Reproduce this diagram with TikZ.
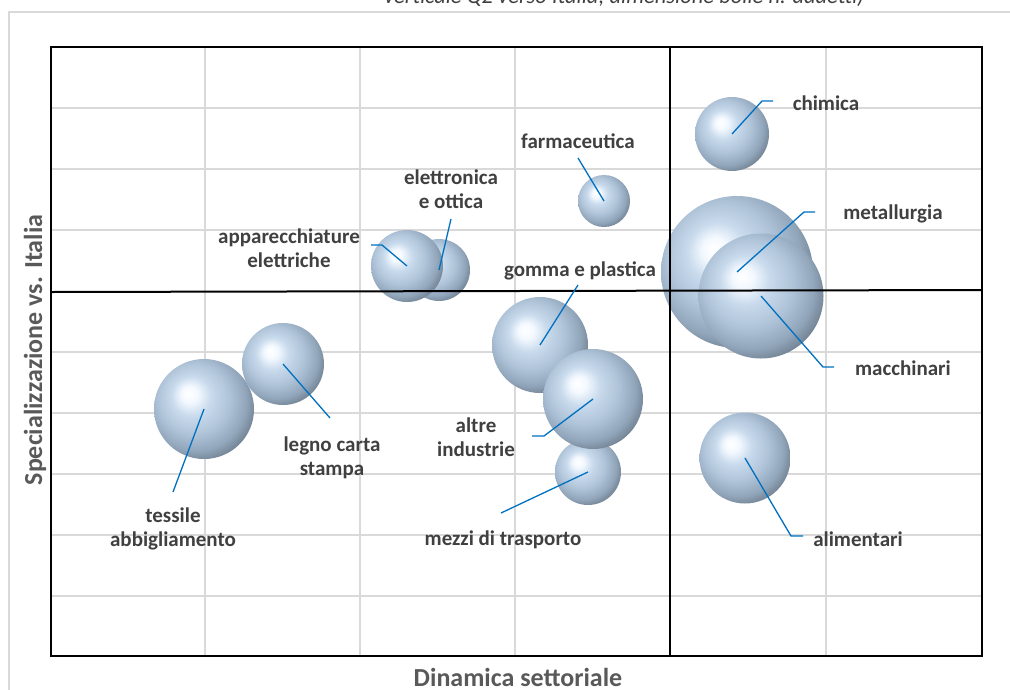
\documentclass[tikz,border=0pt]{standalone}
\usepackage{fontspec}
\setmainfont{Carlito}
\definecolor{gridgray}{HTML}{D9D9D9}
\definecolor{framegray}{HTML}{D9D9D9}
\definecolor{lead}{HTML}{0070C0}
\definecolor{labtxt}{HTML}{404040}
\definecolor{axtxt}{HTML}{595959}
\definecolor{bubA}{HTML}{F4F9FF}
\definecolor{bubB}{HTML}{C8DAEC}
\definecolor{bubC}{HTML}{AFC3D8}
\definecolor{bubD}{HTML}{92A6BB}
\definecolor{bubE}{HTML}{6F8090}
\definecolor{bubF}{HTML}{3E4852}
\pgfdeclareradialshading{bubble}{\pgfpoint{-8bp}{8bp}}{%
  color(0bp)=(white); color(4bp)=(bubA); color(10bp)=(bubB);
  color(18bp)=(bubC); color(25bp)=(bubD); color(30bp)=(bubE);
  color(34bp)=(bubF); color(50bp)=(bubF)}
\begin{document}
\begin{tikzpicture}[x=1pt,y=-1pt,
  bub/.style={circle, inner sep=0pt, minimum size=#1, shading=bubble, draw=none},
  lab/.style={text=labtxt, font=\bfseries\fontsize{21}{24}\selectfont, align=center, inner sep=0pt},
  axtitle/.style={text=axtxt, font=\bfseries\fontsize{26}{30}\selectfont, inner sep=0pt},
  leader/.style={draw=lead, line width=1.3pt},
  gridline/.style={draw=gridgray, line width=1.5pt},
  axisline/.style={draw=black, line width=2pt}]
\useasboundingbox (0,0) rectangle (1010,689);
\clip (0,0) rectangle (1010,689);

% chart frame and the tail of the title
\draw[framegray, line width=1.5pt] (9,12) rectangle (1030,710);
\node[anchor=base, text=labtxt, font=\itshape\fontsize{22.5}{26}\selectfont, inner sep=0pt]
  (subtitle) at (624,3) {verticale Q2 verso Italia; dimensione bolle n. addetti)};

% grid
\foreach \gx in {205,360,515,826} \draw[gridline] (\gx,47) -- (\gx,656);
\foreach \gy in {108,169,230,352,413,474,535,596} \draw[gridline] (51,\gy) -- (982,\gy);

% bubbles
\node[bub=100pt] (tessile) at (204,409) {};
\node[bub=82pt]  (legno)   at (283,364) {};
\node[bub=62pt]  (elettr)  at (439,270) {};
\node[bub=72pt]  (appar)   at (407,266) {};
\node[bub=96pt]  (gomma)   at (540,345) {};
\node[bub=66pt]  (mezzi)   at (588,472) {};
\node[bub=100pt] (altre)   at (593,399) {};
\node[bub=52pt]  (farma)   at (604,201) {};
\node[bub=74pt]  (chim)    at (732,134) {};
\node[bub=152pt] (metal)   at (737,272) {};
\node[bub=125pt] (macch)   at (761,296) {};
\node[bub=91pt]  (alim)    at (745,458) {};

% quadrant axes and plot border
\draw[axisline] (670,47) -- (670,656);
\draw[axisline] (51,292) -- (982,290);
\draw[axisline] (51,47) rectangle (982,656);

% labels
\node[lab] (lchim)  at (826,103) {chimica};
\node[lab] (lmetal) at (893,214) {metallurgia};
\node[lab] (lmacch) at (903,368) {macchinari};
\node[lab] (lalim)  at (858,539) {alimentari};
\node[lab] (lfarma) at (578,141) {farmaceutica};
\node[lab] (lelettr) at (451,189) {elettronica\\e ottica};
\node[lab] (lappar) at (289,248) {apparecchiature\\elettriche};
\node[lab] (lgomma) at (580,271) {gomma e plastica};
\node[lab] (laltre) at (476,437) {altre\\industrie};
\node[lab] (lmezzi) at (503,540) {mezzi di trasporto};
\node[lab] (ltess)  at (173,529) {tessile\\abbigliamento};
\node[lab] (llegno) at (332,458) {legno carta\\stampa};

% leader lines
\coordinate (chimK) at (762,101);  \coordinate (chimE) at (773,101);
\coordinate (metalK) at (804,212); \coordinate (metalE) at (815,212);
\coordinate (macchK) at (823,367); \coordinate (macchE) at (834,367);
\coordinate (alimK) at (791,536);  \coordinate (alimE) at (803,536);
\coordinate (apparK) at (382,245); \coordinate (apparE) at (371,245);
\coordinate (altreK) at (544,436); \coordinate (altreE) at (532,436);
\coordinate (farmaE) at (578,158);
\coordinate (elettrE) at (451,219);
\coordinate (gommaE) at (578,285);
\coordinate (mezziE) at (501,513);
\coordinate (tessE) at (173,492);
\coordinate (legnoE) at (330,418);
\draw[leader] (chim.center) -- (chimK) -- (chimE);
\draw[leader] (metal.center) -- (metalK) -- (metalE);
\draw[leader] (macch.center) -- (macchK) -- (macchE);
\draw[leader] (alim.center) -- (alimK) -- (alimE);
\draw[leader] (appar.center) -- (apparK) -- (apparE);
\draw[leader] (altre.center) -- (altreK) -- (altreE);
\draw[leader] (farma.center) -- (farmaE);
\draw[leader] (elettr.center) -- (elettrE);
\draw[leader] (gomma.center) -- (gommaE);
\draw[leader] (mezzi.center) -- (mezziE);
\draw[leader] (tessile.center) -- (tessE);
\draw[leader] (legno.center) -- (legnoE);

% axis titles
\node[axtitle] (xtitle) at (518,677) {Dinamica settoriale};
\node[axtitle, rotate=90] (ytitle) at (35,350) {Specializzazione vs. Italia};
\end{tikzpicture}
\end{document}
